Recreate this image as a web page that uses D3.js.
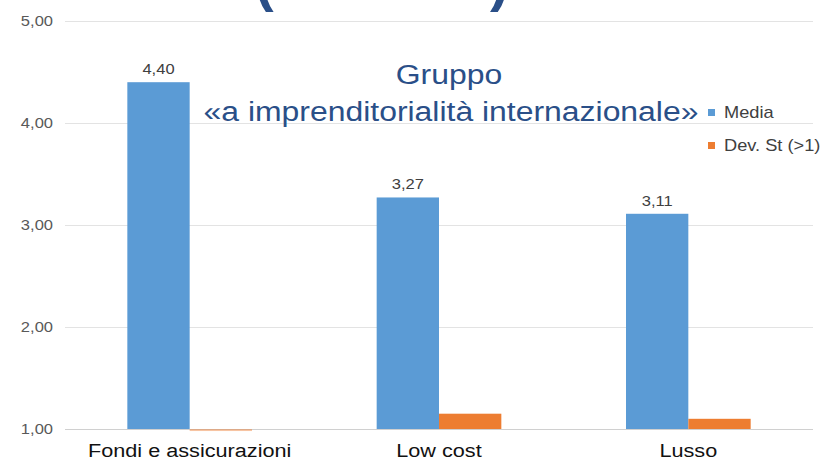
<!DOCTYPE html>
<html>
<head>
<meta charset="utf-8">
<script src="https://cdn.jsdelivr.net/npm/d3@7/dist/d3.min.js"></script>
<style>
  body { margin: 0; background: #fff; }
  text { font-family: "Liberation Sans", Arial, sans-serif; }
</style>
</head>
<body>
<div id="output"></div>
<script>
var w = 838;
var h = 463;
var categories = ['Fondi e assicurazioni', 'Low cost', 'Lusso'];
var media = [4.40, 3.27, 3.11];
var devSt = [0.98, 1.15, 1.10];
var yTicks = [1, 2, 3, 4, 5];
var seriesNames = ['Media', 'Dev. St (>1)'];
var colors = ['#5b9bd5', '#ed7d31'];
var sx = 1.14; // the slide was stretched a bit wide

var margin = {left: 65, right: 25, top: 21, bottom: 34};
var svg = d3.select('#output').append('svg')
	.attr('width', w)
	.attr('height', h);

var x = d3.scaleBand().domain(categories)
	.range([margin.left, w - margin.right]).paddingInner(0.5).paddingOuter(0.25);
var x1 = d3.scaleBand().domain(seriesNames).range([0, x.bandwidth()]);
var y = d3.scaleLinear().domain([1, 5]).range([h - margin.bottom, margin.top]);

var fmt = function (v) { return d3.format('.2f')(v).replace('.', ','); };

// put a stretched text at (px, py)
function label (txt, px, py, size, anchor, fill) {
	return svg.append('text')
		.text(txt)
		.attr('transform', 'translate(' + px + ',' + py + ') scale(' + sx + ',1)')
		.attr('text-anchor', anchor)
		.attr('font-size', size)
		.attr('fill', fill);
}

// gridlines
svg.append('g').selectAll('line')
	.data(yTicks)
	.enter()
	.append('line')
	.attr('x1', margin.left)
	.attr('x2', w - margin.right)
	.attr('y1', function (d) { return Math.round(y(d)) + 0.5; })
	.attr('y2', function (d) { return Math.round(y(d)) + 0.5; })
	.attr('stroke', function (d) { return d === 1 ? '#d0d0d0' : '#e3e3e3'; })
	.attr('stroke-width', 1);

// y axis labels
var yAxis = d3.axisLeft(y).tickValues(yTicks).tickSize(0).tickPadding(0).tickFormat(fmt);
svg.append('g')
	.attr('transform', 'translate(' + margin.left + ',0)')
	.call(yAxis)
	.call(function (g) { g.select('.domain').remove(); })
	.selectAll('text')
	.attr('x', 0)
	.attr('transform', 'translate(-12,0) scale(' + sx + ',1)')
	.attr('font-size', 14.5)
	.attr('fill', '#595959')
	.style('font-family', '"Liberation Sans", Arial, sans-serif');

// x axis labels
var xAxis = d3.axisBottom(x).tickSize(0).tickPadding(15);
svg.append('g')
	.attr('transform', 'translate(0,' + y(1) + ')')
	.call(xAxis)
	.call(function (g) { g.select('.domain').remove(); })
	.selectAll('text')
	.attr('transform', 'scale(' + sx + ',1)')
	.attr('font-size', 19)
	.attr('fill', '#111')
	.style('font-family', '"Liberation Sans", Arial, sans-serif');

// bars
var groups = svg.selectAll('g.cat')
	.data(categories)
	.enter()
	.append('g')
	.attr('class', 'cat')
	.attr('transform', function (d) { return 'translate(' + x(d) + ',0)'; });

groups.append('rect')
	.attr('x', x1('Media'))
	.attr('width', x1.bandwidth())
	.attr('y', function (d, i) { return y(media[i]); })
	.attr('height', function (d, i) { return y(1) - y(media[i]); })
	.attr('fill', colors[0]);

groups.append('rect')
	.attr('x', x1('Dev. St (>1)'))
	.attr('width', x1.bandwidth())
	.attr('y', function (d, i) { return Math.min(y(devSt[i]), y(1)); })
	.attr('height', function (d, i) { return Math.abs(y(1) - y(devSt[i])); })
	.attr('fill', colors[1])
	.attr('fill-opacity', function (d, i) { return devSt[i] < 1 ? 0.45 : 1; });

categories.forEach(function (c, i) {
	label(fmt(media[i]), x(c) + x1('Media') + x1.bandwidth() / 2, y(media[i]) - 8, 14.5, 'middle', '#404040');
});

// legend
seriesNames.forEach(function (s, i) {
	var ly = 109 + i * 33;
	svg.append('rect')
		.attr('x', 708).attr('y', ly)
		.attr('width', 7).attr('height', 7)
		.attr('fill', colors[i]);
	label(s, 724, ly + 9, 16, 'start', '#404040');
});

// overlaid title
var titleColor = '#2a4f88';
label('Gruppo', 449, 84, 28, 'middle', titleColor);
label('«a imprenditorialità internazionale»', 451, 121, 28, 'middle', titleColor);
svg.append('text').text('(')
	.attr('x', 255).attr('y', 0)
	.attr('font-size', 56).attr('font-weight', 'bold').attr('fill', titleColor);
svg.append('text').text(')')
	.attr('x', 490).attr('y', 0)
	.attr('font-size', 56).attr('font-weight', 'bold').attr('fill', titleColor);
</script>
</body>
</html>
